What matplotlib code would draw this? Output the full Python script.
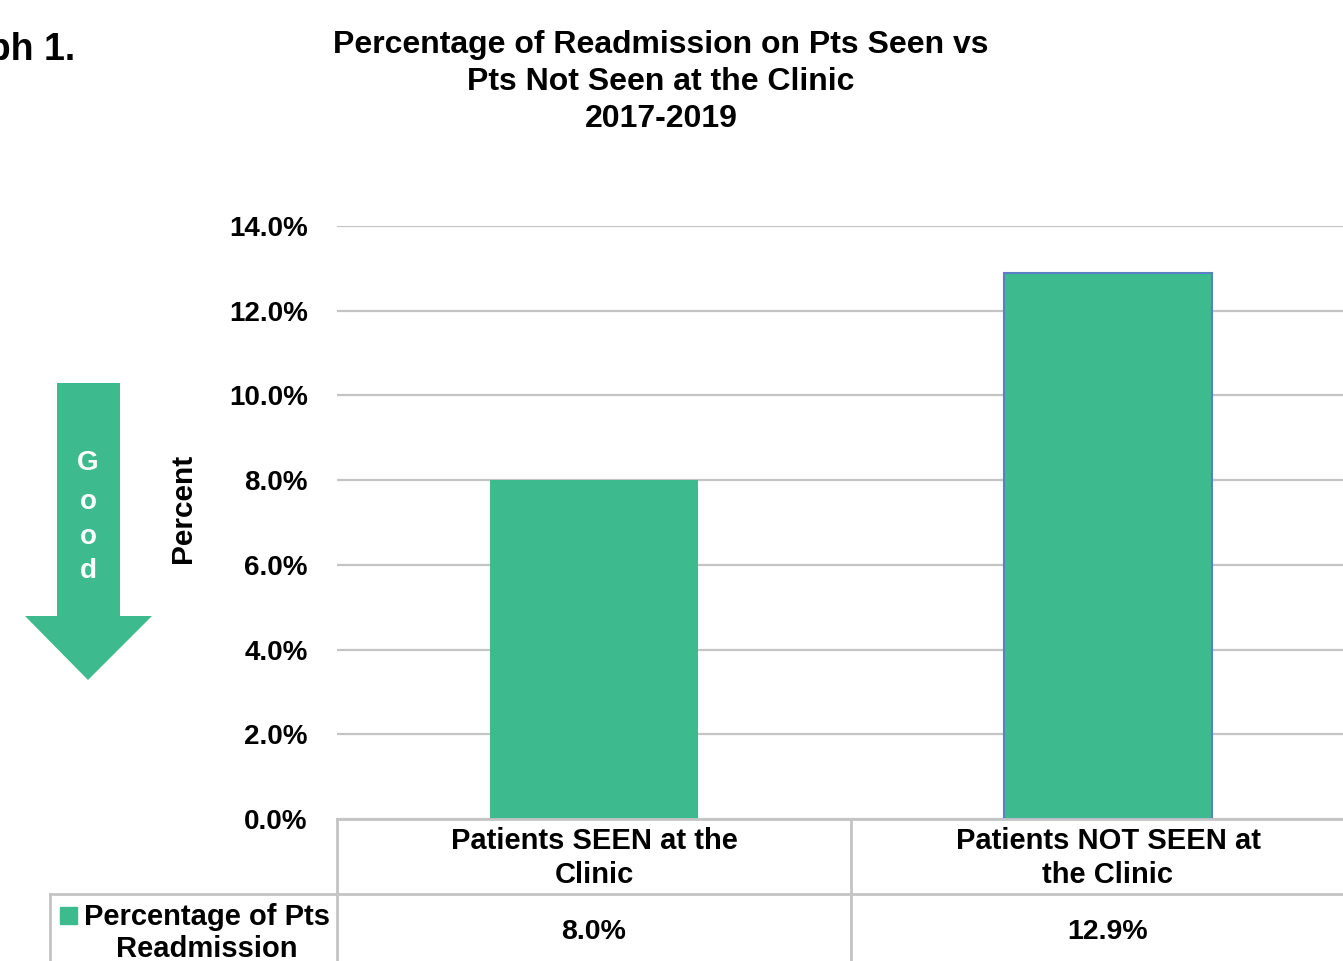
import matplotlib
matplotlib.use("Agg")
import matplotlib.pyplot as plt
from matplotlib.patches import Polygon, Rectangle
from matplotlib.lines import Line2D
from matplotlib.transforms import blended_transform_factory

# -----------------------------
# Data
# -----------------------------
categories = ["Patients SEEN at the\nClinic", "Patients NOT SEEN at\nthe Clinic"]
values = [8.0, 12.9]
series_name = "Percentage of Pts\nReadmission"
yticks = [0, 2, 4, 6, 8, 10, 12, 14]

GREEN = "#3dbb8f"
GRID = "#c4c4c4"
W, H = 1343, 961

plt.rcParams["font.family"] = ["Liberation Sans", "DejaVu Sans"]
plt.rcParams["font.weight"] = "bold"

fig = plt.figure(figsize=(W / 100, H / 100), dpi=100)


def fx(px):
    return px / W


def fy(py):
    return 1 - py / H


# axes: x from 337 to 1365 px (second category runs past the right edge)
ax = fig.add_axes([fx(337), fy(819), fx(1365 - 337), fy(226) - fy(819)])

x = list(range(len(categories)))
bars = ax.bar(x, values, width=0.405, color=GREEN, zorder=3)
bars[1].set_edgecolor("#5a7fc4")
bars[1].set_linewidth(1.5)

ax.set_xlim(-0.5, len(categories) - 0.5)
ax.set_ylim(0, 14)
ax.set_yticks(yticks)
ax.set_yticklabels([f"{t:.1f}%" for t in yticks], fontsize=20, fontweight="bold")
ax.tick_params(axis="y", length=0, pad=21)
ax.set_xticks([])
ax.yaxis.grid(True, color=GRID, linewidth=1.6, zorder=0)
for s in ax.spines.values():
    s.set_visible(False)

fig.text(fx(183), fy(508), "Percent", rotation=90, ha="center", va="center",
         fontsize=21.5, fontweight="bold")

# -----------------------------
# Data table under the chart
# -----------------------------
tr = blended_transform_factory(ax.transData, fig.transFigure)
lw = 2.0
left_edge = -0.5
right_edge = len(categories) - 0.5
# horizontal lines
fig.add_artist(Line2D([left_edge, right_edge], [fy(819), fy(819)], transform=tr, color=GRID, lw=lw))
fig.add_artist(Line2D([fx(50), fx(337)], [fy(894), fy(894)], transform=fig.transFigure, color=GRID, lw=lw))
fig.add_artist(Line2D([left_edge, right_edge], [fy(894), fy(894)], transform=tr, color=GRID, lw=lw))
# vertical lines
for b in range(len(categories) + 1):
    fig.add_artist(Line2D([b - 0.5, b - 0.5], [fy(819), 0], transform=tr, color=GRID, lw=lw))
fig.add_artist(Line2D([fx(50), fx(50)], [fy(894), 0], transform=fig.transFigure, color=GRID, lw=lw))

for i, (cat, v) in enumerate(zip(categories, values)):
    fig.text(i, fy(858), cat, transform=tr, ha="center", va="center",
             fontsize=21, fontweight="bold", linespacing=1.3)
    fig.text(i, fy(932), f"{v:.1f}%", transform=tr, ha="center", va="center",
             fontsize=20.5, fontweight="bold")

# legend key cell
fig.add_artist(Rectangle((fx(60), fy(924)), fx(17), fy(907) - fy(924),
                         transform=fig.transFigure, color=GREEN))
fig.text(fx(207), fy(933), series_name, ha="center", va="center",
         fontsize=21, fontweight="bold", linespacing=1.17)

# -----------------------------
# Titles
# -----------------------------
fig.text(fx(661), fy(82), "Percentage of Readmission on Pts Seen vs\nPts Not Seen at the Clinic\n2017-2019",
         ha="center", va="center", fontsize=23, fontweight="bold", linespacing=1.29)
fig.text(fx(75), fy(50), "Graph 1.", ha="right", va="center", fontsize=27, fontweight="bold")

# -----------------------------
# "Good" arrow
# -----------------------------
arrow_px = [(57, 383), (120, 383), (120, 616), (152, 616), (88, 680), (25, 616), (57, 616)]
fig.add_artist(Polygon([(fx(a), fy(b)) for a, b in arrow_px], closed=True,
                       transform=fig.transFigure, facecolor=GREEN, edgecolor="none"))
for ch, py in zip("Good", [463, 502, 537, 571]):
    fig.text(fx(88), fy(py), ch, ha="center", va="center", color="white",
             fontsize=20, fontweight="bold")

fig.savefig("out.png", dpi=100)
